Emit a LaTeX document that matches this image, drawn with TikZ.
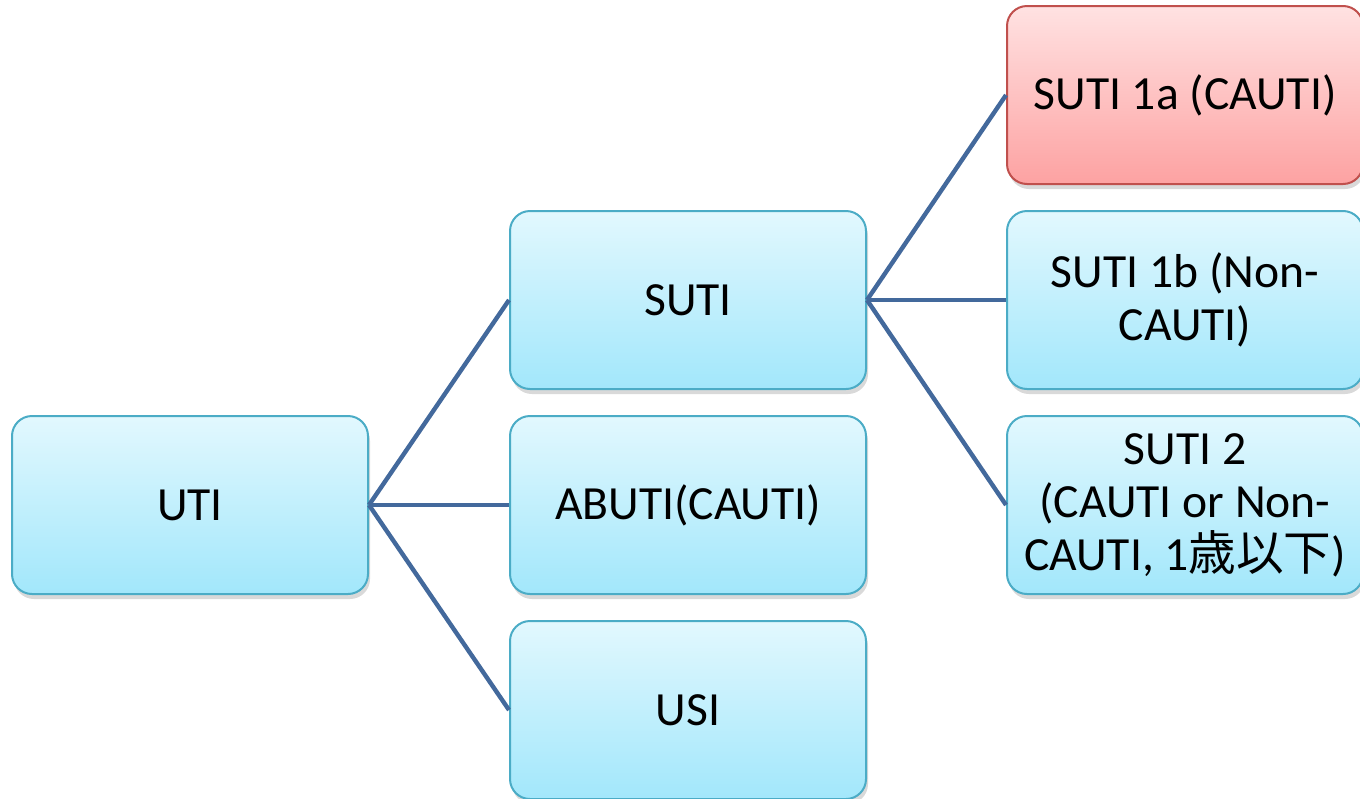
\documentclass[tikz,border=0pt]{standalone}
\usepackage{fontspec}
\setmainfont{Carlito}
\newfontfamily\jpfont{Noto Sans CJK JP}
\usetikzlibrary{shadows}
\definecolor{boxtop}{HTML}{E2F8FE}
\definecolor{boxbot}{HTML}{A2E7FB}
\definecolor{boxline}{HTML}{4BACC6}
\definecolor{redtop}{HTML}{FFE2E2}
\definecolor{redbot}{HTML}{FDA2A2}
\definecolor{redline}{HTML}{C0504D}
\definecolor{linkblue}{HTML}{43699C}

\begin{document}
\begin{tikzpicture}[
x=0.5pt, y=-0.5pt,
box/.style={draw=boxline, line width=1pt, rounded corners=10pt,
  top color=boxtop, bottom color=boxbot,
  minimum width=178pt, minimum height=89pt, align=center,
  font=\fontsize{23.8}{26.5}\selectfont,
  drop shadow={opacity=0.3, shadow xshift=1pt, shadow yshift=-2.5pt}},
redbox/.style={box, draw=redline, top color=redtop, bottom color=redbot},
link/.style={draw=linkblue, line width=2.2pt},
]
\useasboundingbox (0,0) rectangle (1360,798);
% nodes
\node[box] (UTI) at (190,505) {UTI};
\node[box] (SUTI) at (688,300) {SUTI};
\node[box] (ABUTI) at (688,505) {ABUTI(CAUTI)};
\node[box] (USI) at (688,710) {USI};
\node[redbox] (S1a) at (1185,95) {SUTI 1a (CAUTI)};
\node[box] (S1b) at (1185,300) {SUTI 1b (Non-\\CAUTI)};
\node[box] (S2) at (1185,505) {SUTI 2\\(CAUTI or Non-\\CAUTI, 1{\jpfont 歳以下})};
% arrows
\draw[link] (UTI.east) -- (SUTI.west);
\draw[link] (UTI.east) -- (ABUTI.west);
\draw[link] (UTI.east) -- (USI.west);
\draw[link] (SUTI.east) -- (S1a.west);
\draw[link] (SUTI.east) -- (S1b.west);
\draw[link] (SUTI.east) -- (S2.west);
\end{tikzpicture}
\end{document}
